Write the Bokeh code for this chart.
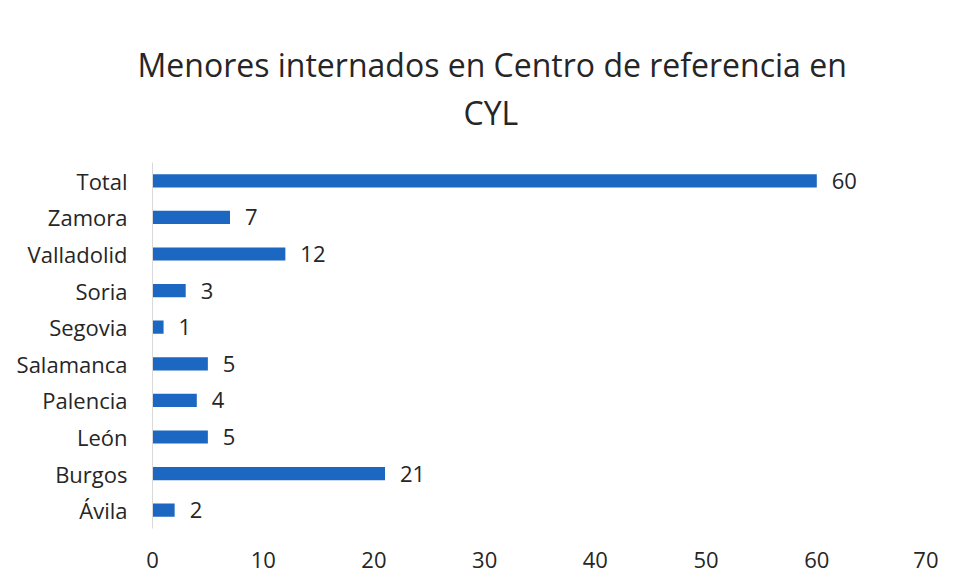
from bokeh.plotting import figure
from bokeh.models import ColumnDataSource, FactorRange, Range1d, FixedTicker, Title, LabelSet
from bokeh.core.properties import value
from bokeh.embed import file_html
from bokeh.resources import INLINE

categories = ["Ávila", "Burgos", "León", "Palencia", "Salamanca", "Segovia", "Soria", "Valladolid", "Zamora", "Total"]
counts = [2, 21, 5, 4, 5, 1, 3, 12, 7, 60]
x_ticks = [0, 10, 20, 30, 40, 50, 60, 70]
title_lines = ["Menores internados en Centro de referencia en", "CYL"]

FONT = "Open Sans"
BAR = "#1b67c1"
TXT = "#262626"

src = ColumnDataSource(dict(cat=categories, val=counts, lab=[str(v) for v in counts]))

p = figure(width=938, height=575, output_backend="svg", toolbar_location=None,
           y_range=FactorRange(factors=categories, range_padding=0),
           x_range=Range1d(0, 70),
           min_border_left=152, min_border_right=11, min_border_bottom=47, min_border_top=162)

p.hbar(y="cat", right="val", left=0, height=0.36, source=src, color=BAR, line_color=None)

labels = LabelSet(x="val", y="cat", text="lab", source=src, x_offset=15,
                  text_align="left", text_baseline="middle",
                  text_font=value(FONT), text_font_size="22px", text_color=TXT)
p.add_layout(labels)

p.title.visible = False
t2 = Title(text=title_lines[1], align="left", text_font=FONT, text_font_size="32px",
           text_font_style="normal", text_color=TXT, offset=311, standoff=57)
t1 = Title(text=title_lines[0], align="left", text_font=FONT,
           text_font_size="32px", text_font_style="normal", text_color=TXT, offset=-15, standoff=-51)
p.add_layout(t2, "above")
p.add_layout(t1, "above")

p.xgrid.visible = False
p.ygrid.visible = False
p.outline_line_color = None

p.xaxis.ticker = FixedTicker(ticks=x_ticks)
p.xaxis.axis_line_color = None
p.xaxis.major_tick_line_color = None
p.xaxis.minor_tick_line_color = None
p.xaxis.major_label_standoff = 17
p.xaxis.major_label_text_font = FONT
p.xaxis.major_label_text_font_size = "22px"
p.xaxis.major_label_text_color = TXT

p.yaxis.axis_line_color = "#d9d9d9"
p.yaxis.axis_line_width = 1
p.yaxis.major_tick_line_color = None
p.yaxis.minor_tick_line_color = None
p.yaxis.major_label_standoff = 19
p.yaxis.major_label_text_font = FONT
p.yaxis.major_label_text_font_size = "22px"
p.yaxis.major_label_text_color = TXT

open("out.html", "w").write(file_html(p, INLINE))
